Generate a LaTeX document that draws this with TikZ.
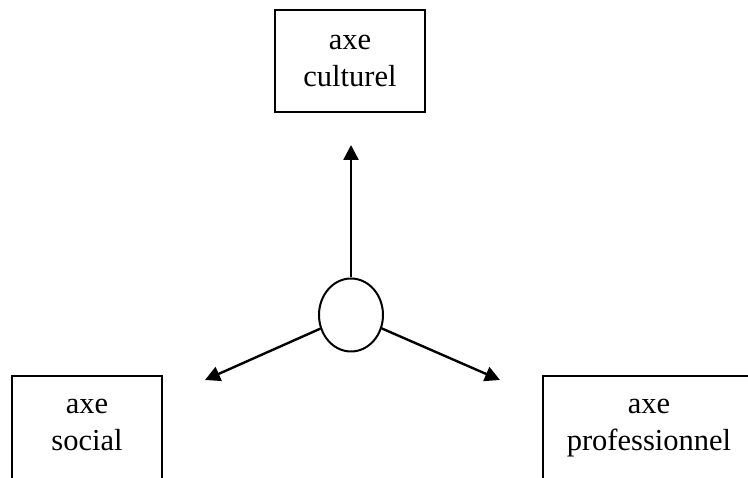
\documentclass[tikz,border=0pt]{standalone}
\usepackage{fontspec}
\setmainfont{Liberation Serif}
\usetikzlibrary{arrows.meta,shapes.geometric}
\begin{document}
\begin{tikzpicture}[x=1pt,y=1pt,
  boxst/.style={draw, line width=1.7pt, rectangle, minimum width=150pt, inner sep=0pt},
  lbl/.style={font=\fontsize{30.5}{37}\selectfont, align=center, inner sep=0pt},
  arr/.style={line width=2.4pt, -{Triangle[length=15pt,width=15pt]}}]
\useasboundingbox (0,0) rectangle (748,478);
\clip (0,0) rectangle (748,478);
% top box
\node[boxst, minimum height=102pt, lbl] (cult) at (350,417) {axe\\culturel};
% bottom boxes (cut off by the lower edge)
\node[boxst, minimum height=140pt] (soc) at (87,32) {};
\node[lbl, anchor=north] (soct) at ([yshift=-24pt]soc.north) {axe\\social};
\node[boxst, minimum width=230pt, minimum height=140pt] (pro) at (658,32) {};
\node[lbl, anchor=north] (prot) at ([yshift=-24pt,xshift=-9pt]pro.north) {axe\\professionnel};
% centre ellipse
\node[draw, ellipse, line width=2pt, minimum width=64pt, minimum height=73pt, inner sep=0pt] (c) at (351,163) {};
\coordinate (tT) at (351,333);
\coordinate (tL) at (205,98);
\coordinate (tR) at (500,98);
\draw[arr] (c.north) -- (tT);
\draw[arr] (c) -- (tL);
\draw[arr] (c) -- (tR);
\end{tikzpicture}
\end{document}
